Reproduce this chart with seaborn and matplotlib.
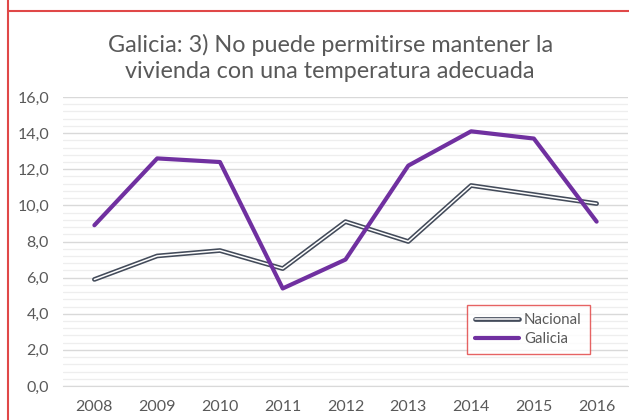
import matplotlib
matplotlib.use("Agg")
import matplotlib.pyplot as plt
import matplotlib.patheffects as pe
from matplotlib.lines import Line2D
from matplotlib.ticker import MultipleLocator, FuncFormatter
import seaborn as sns
import pandas as pd

# datos
years = [2008, 2009, 2010, 2011, 2012, 2013, 2014, 2015, 2016]
nacional = [5.9, 7.2, 7.5, 6.5, 9.1, 8.0, 11.1, 10.6, 10.1]
galicia = [8.9, 12.6, 12.4, 5.4, 7.0, 12.2, 14.1, 13.7, 9.1]

df = pd.DataFrame({"year": years, "Nacional": nacional, "Galicia": galicia})

sns.set_style("white")
plt.rcParams["font.family"] = ["Lato", "DejaVu Sans"]

fig = plt.figure(figsize=(6.29, 4.2), dpi=100)
ax = fig.add_axes([63 / 629, 34 / 420, 565 / 629, 289 / 420])

gray = "#595959"

# Nacional: linea doble (contorno oscuro, centro blanco)
sns.lineplot(data=df, x="year", y="Nacional", ax=ax, color="white", lw=1.1,
             label="Nacional",
             path_effects=[pe.Stroke(linewidth=3.4, foreground="#434b5a"), pe.Normal()])
sns.lineplot(data=df, x="year", y="Galicia", ax=ax, color="#7030A0", lw=3.0,
             label="Galicia")

ax.set_xlim(2007.5, 2016.5)
ax.set_ylim(0, 16)
ax.set_xticks(years)
ax.yaxis.set_major_locator(MultipleLocator(2))
ax.yaxis.set_minor_locator(MultipleLocator(0.4))
ax.yaxis.set_major_formatter(FuncFormatter(lambda v, p: f"{v:.1f}".replace(".", ",")))
ax.grid(which="major", axis="y", color="#d9d9d9", lw=1.0)
ax.grid(which="minor", axis="y", color="#eeeeee", lw=0.9)
ax.set_axisbelow(True)
for s in ["top", "right", "left"]:
    ax.spines[s].set_visible(False)
ax.spines["bottom"].set_color("#d9d9d9")
ax.tick_params(axis="both", which="both", length=0, labelsize=11.5, labelcolor=gray)
ax.tick_params(axis="y", pad=10)
ax.tick_params(axis="x", pad=10)
ax.set_xlabel("")
ax.set_ylabel("")

fig.text(0.525, 0.92, "Galicia: 3) No puede permitirse mantener la\nvivienda con una temperatura adecuada",
         ha="center", va="top", fontsize=16.8, color=gray, linespacing=1.3)

leg = ax.legend(loc="upper left", bbox_to_anchor=(0.715, 0.28), borderaxespad=0,
                fancybox=False, frameon=True, fontsize=10.8, handlelength=2.9,
                labelcolor=gray, borderpad=0.55, labelspacing=0.3, handletextpad=0.35)
leg.get_frame().set_edgecolor("#e03c3c")
leg.get_frame().set_linewidth(1.0)

# marco rojo de la hoja
red = "#e04848"
fig.add_artist(Line2D([8 / 629, 8 / 629], [0, 1], color=red, lw=1.5))
fig.add_artist(Line2D([8 / 629, 1], [1 - 11 / 420, 1 - 11 / 420], color=red, lw=1.5))

fig.savefig("out.png", dpi=100)
